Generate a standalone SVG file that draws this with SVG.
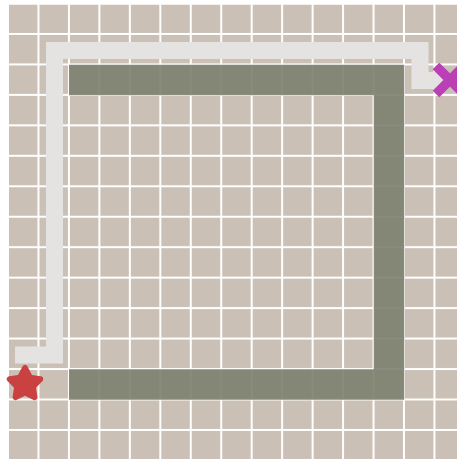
<svg xmlns="http://www.w3.org/2000/svg" width="457" height="459" viewBox="0 0 457 459">
  <defs>
    <pattern id="grid" patternUnits="userSpaceOnUse" x="9" y="4.5" width="30.46" height="30.46">
      <rect x="0" y="0" width="28.46" height="28.46" fill="#cbc0b6"/>
    </pattern>
    <style>
      .wall { fill: none; stroke: #7c806f; stroke-opacity: 0.9; stroke-width: 30.5; stroke-linejoin: miter; stroke-linecap: butt; }
      .route { fill: none; stroke: #e5e3e2; stroke-width: 17; stroke-linejoin: miter; stroke-linecap: butt; }
      .goal { stroke: #bb3fb5; stroke-width: 9.5; stroke-linecap: butt; }
      .start { fill: #c94141; stroke: #c94141; stroke-width: 6; stroke-linejoin: round; }
    </style>
  </defs>
  <rect x="0" y="0" width="457" height="459" fill="#ffffff"/>
  <rect x="9" y="4.5" width="448" height="454.5" fill="url(#grid)"/>
  <g id="connectors">
    <path id="wall" class="wall" d="M 69 80 H 389 V 384.5 H 69"/>
    <path id="route" class="route" d="M 15 355 H 54.5 V 50.5 H 420 V 80.5 H 445"/>
  </g>
  <g id="goal">
    <line class="goal" x1="436" y1="66" x2="464" y2="94"/>
    <line class="goal" x1="436" y1="94" x2="464" y2="66"/>
  </g>
  <g id="start">
    <polygon class="start" points="25,368 30,377.7 40.2,379.1 32.8,386.6 34.4,397.2 25,392.3 15.6,397.2 17.2,386.6 9.8,379.1 20,377.7"/>
  </g>
</svg>
